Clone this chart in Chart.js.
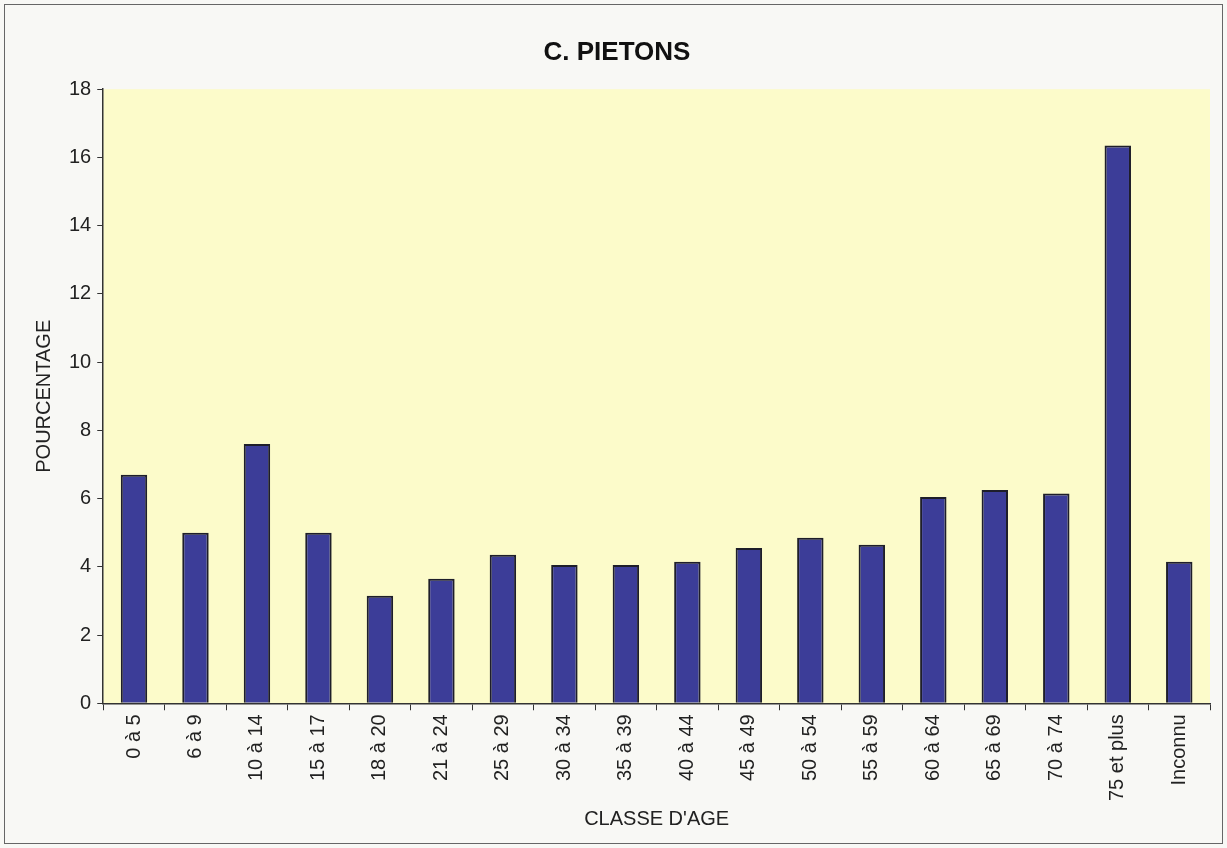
<!DOCTYPE html>
<html>
<head>
<meta charset="utf-8">
<script src="https://cdn.jsdelivr.net/npm/chart.js@4"></script>
<style>
  html, body { margin: 0; padding: 0; background: #f8f8f5; }
  #wrap { width: 1227px; height: 848px; position: relative; }
</style>
</head>
<body>
<div id="wrap"><canvas id="chart" width="1227" height="848"></canvas></div>
<script>
const ageClasses = [`0 à 5`, `6 à 9`, `10 à 14`, `15 à 17`, `18 à 20`, `21 à 24`, `25 à 29`, `30 à 34`, `35 à 39`,
  `40 à 44`, `45 à 49`, `50 à 54`, `55 à 59`, `60 à 64`, `65 à 69`, `70 à 74`, `75 et plus`, `Inconnu`];
const percentages = [6.7, 5.0, 7.6, 5.0, 3.15, 3.65, 4.35, 4.05, 4.05, 4.15, 4.55, 4.85, 4.65, 6.05, 6.25, 6.15, 16.35, 4.15];
const yTicks = [0, 2, 4, 6, 8, 10, 12, 14, 16, 18];

const FONT = `"Liberation Sans", Arial, sans-serif`;

// yellow plot area + frame round the whole picture
const backdrop = {
  id: `backdrop`,
  beforeDraw(chart) {
    const {ctx, chartArea: a, width, height} = chart;
    ctx.save();
    ctx.fillStyle = `#f8f8f5`;
    ctx.fillRect(0, 0, width, height);
    ctx.strokeStyle = `#666`;
    ctx.lineWidth = 1;
    ctx.strokeRect(4.5, 4.5, width - 9, height - 9);
    ctx.fillStyle = `#fcfbca`;
    ctx.fillRect(a.left, a.top, a.right - a.left, a.bottom - a.top);
    ctx.restore();
  },
};

new Chart(document.getElementById(`chart`), {
  type: `bar`,
  plugins: [backdrop],
  data: {
    labels: ageClasses,
    datasets: [{
      data: percentages,
      backgroundColor: `#3c3d98`,
      borderColor: `#1e1e2a`,
      borderWidth: 2,
      barPercentage: 0.43,
      categoryPercentage: 1,
    }],
  },
  options: {
    responsive: false,
    animation: false,
    layout: {padding: {top: 0, right: 17, bottom: 17, left: 24}},
    plugins: {
      legend: {display: false},
      tooltip: {enabled: false},
      title: {
        display: true,
        text: `C. PIETONS`,
        color: `#111`,
        font: {family: FONT, size: 26, weight: `bold`},
        padding: {top: 37, bottom: 21},
      },
    },
    scales: {
      x: {
        grid: {drawOnChartArea: false, color: `#333`, tickLength: 7, offset: true},
        border: {color: `#333`, width: 1.5},
        ticks: {
          color: `#222`,
          font: {family: FONT, size: 20},
          minRotation: 90,
          maxRotation: 90,
          autoSkip: false,
          padding: 4,
        },
        title: {
          display: true,
          text: `CLASSE D'AGE`,
          color: `#222`,
          font: {family: FONT, size: 20},
          padding: {top: 2, bottom: 0},
        },
      },
      y: {
        min: 0,
        max: 18,
        afterBuildTicks(scale) {
          scale.ticks = yTicks.map(v => ({value: v}));
        },
        grid: {drawOnChartArea: false, color: `#333`, tickLength: 6},
        border: {color: `#333`, width: 1.5},
        ticks: {
          color: `#222`,
          font: {family: FONT, size: 20},
          padding: 6,
        },
        title: {
          display: true,
          text: `POURCENTAGE`,
          color: `#222`,
          font: {family: FONT, size: 20},
          padding: {top: 8, bottom: 7},
        },
      },
    },
  },
});
</script>
</body>
</html>
